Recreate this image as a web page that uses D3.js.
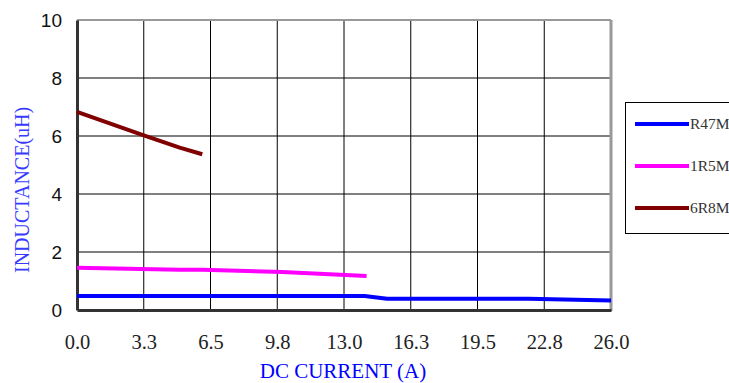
<!DOCTYPE html>
<html lang="en">
<head>
<meta charset="UTF-8">
<title>Inductance vs DC Current</title>
<script src="https://cdnjs.cloudflare.com/ajax/libs/d3/7.8.5/d3.min.js"></script>
<style>
  html, body { margin: 0; padding: 0; background: #fff; }
  svg { display: block; }
  .ytick text { font-family: "Liberation Sans", Arial, sans-serif; font-size: 19px; fill: #111; }
  .xtick text { font-family: "Liberation Serif", "Times New Roman", serif; font-size: 20.5px; fill: #222; }
  .series { fill: none; stroke-width: 4px; stroke-linejoin: round; }
</style>
</head>
<body>
<div id="chart"></div>
<script>
  // data
  const seriesNames = ["R47M", "1R5M", "6R8M"];
  const seriesColors = ["#0000ff", "#ff00ff", "#800000"];
  const r47m = [[0, 0.48], [14, 0.48], [15.1, 0.39], [22, 0.39], [26, 0.33]];
  const r15m = [[0, 1.46], [5, 1.39], [6.1, 1.39], [10, 1.31], [14.1, 1.17]];
  const r68m = [[0, 6.83], [3.25, 6.02], [5, 5.6], [6.1, 5.37]];
  const xTickValues = [0, 3.25, 6.5, 9.75, 13, 16.25, 19.5, 22.75, 26];
  const xTickLabels = ["0.0", "3.3", "6.5", "9.8", "13.0", "16.3", "19.5", "22.8", "26.0"];
  const yTickValues = [0, 2, 4, 6, 8, 10];

  const W = 729, H = 383;
  const plot = {left: 77, right: 611, top: 20, bottom: 310};

  const svg = d3.select("#chart").append("svg")
    .attr("width", W).attr("height", H);

  const x = d3.scaleLinear().domain([0, 26]).range([plot.left, plot.right]);
  const y = d3.scaleLinear().domain([0, 10]).range([plot.bottom, plot.top]);

  // grid
  svg.append("g").selectAll("line.v").data(xTickValues.slice(1, -1)).join("line")
    .attr("x1", d => x(d)).attr("x2", d => x(d))
    .attr("y1", plot.top).attr("y2", plot.bottom)
    .attr("stroke", "#000").attr("stroke-width", 1);
  svg.append("g").selectAll("line.h").data(yTickValues.slice(1, -1)).join("line")
    .attr("y1", d => y(d)).attr("y2", d => y(d))
    .attr("x1", plot.left).attr("x2", plot.right)
    .attr("stroke", "#000").attr("stroke-width", 1);

  // frame
  svg.append("line").attr("x1", plot.left).attr("x2", plot.right)
    .attr("y1", plot.top).attr("y2", plot.top)
    .attr("stroke", "#999").attr("stroke-width", 2);
  svg.append("line").attr("x1", plot.right).attr("x2", plot.right)
    .attr("y1", plot.top).attr("y2", plot.bottom + 1)
    .attr("stroke", "#999").attr("stroke-width", 3);

  // axes
  const xAxis = d3.axisBottom(x).tickValues(xTickValues)
    .tickFormat((d, i) => xTickLabels[i]).tickSize(0).tickPadding(24);
  svg.append("g").attr("class", "xtick")
    .attr("transform", `translate(0,${plot.bottom})`)
    .call(xAxis)
    .call(g => g.select(".domain").attr("stroke", "#333").attr("stroke-width", 3));

  const yAxis = d3.axisLeft(y).tickValues(yTickValues).tickSize(0).tickPadding(15);
  svg.append("g").attr("class", "ytick")
    .attr("transform", `translate(${plot.left},0)`)
    .call(yAxis)
    .call(g => g.select(".domain").attr("stroke", "#333").attr("stroke-width", 3));

  // series
  const line = d3.line().x(d => x(d[0])).y(d => y(d[1]));
  [r47m, r15m, r68m].forEach((data, i) => {
    svg.append("path").datum(data)
      .attr("class", "series")
      .attr("stroke", seriesColors[i])
      .attr("d", line);
  });

  // axis titles
  svg.append("text")
    .attr("x", 343).attr("y", 378)
    .attr("text-anchor", "middle")
    .attr("font-family", "Liberation Serif, serif")
    .attr("font-size", 21)
    .attr("fill", "#0000ff")
    .text("DC CURRENT (A)");

  svg.append("clipPath").attr("id", "yclip")
    .append("rect").attr("x", 0).attr("y", 106).attr("width", 40).attr("height", 200);
  svg.append("g").attr("clip-path", "url(#yclip)")
    .append("text")
    .attr("transform", "translate(29,273) rotate(-90)")
    .attr("font-family", "Liberation Serif, serif")
    .attr("font-size", 20)
    .attr("fill", "#3a3aff")
    .text("INDUCTANCE(uH)");

  // legend
  const legend = svg.append("g");
  legend.append("rect")
    .attr("x", 625.5).attr("y", 102.5).attr("width", 120).attr("height", 131)
    .attr("fill", "#fff").attr("stroke", "#000").attr("stroke-width", 1);
  seriesNames.forEach((name, i) => {
    const ly = 124 + i * 42;
    legend.append("line")
      .attr("x1", 635).attr("x2", 689).attr("y1", ly).attr("y2", ly)
      .attr("stroke", seriesColors[i]).attr("stroke-width", 4);
    legend.append("text")
      .attr("x", 690).attr("y", ly + 5)
      .attr("font-family", "Liberation Serif, serif")
      .attr("font-size", 15.5)
      .attr("fill", "#333")
      .text(name);
  });
</script>
</body>
</html>
